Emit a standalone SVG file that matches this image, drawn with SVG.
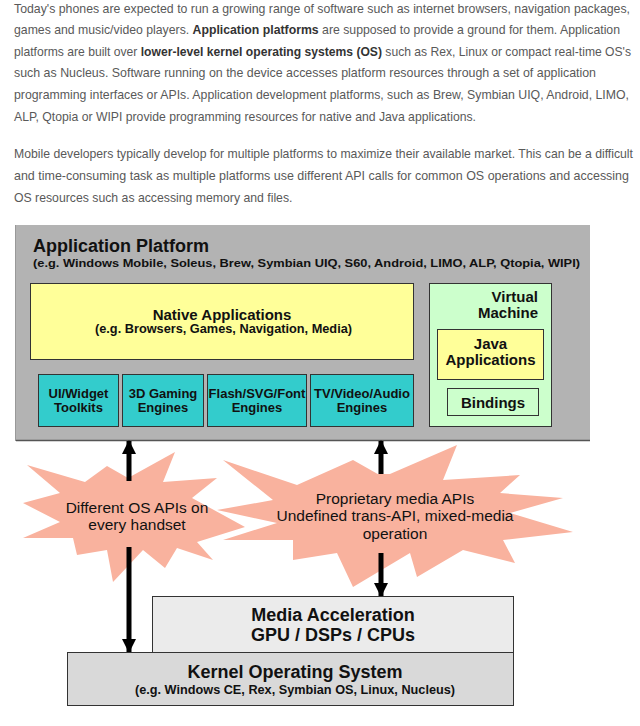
<svg xmlns="http://www.w3.org/2000/svg" width="640" height="726" viewBox="0 0 640 726">
<defs>
<style>
.p{font-family:"Liberation Sans",Arial,sans-serif;font-size:12.25px;fill:#595959}
.p .b{font-weight:bold;fill:#333}
.t{font-family:"Liberation Sans",Arial,sans-serif;font-weight:bold;fill:#111;text-anchor:middle}
.s{font-family:"Liberation Sans",Arial,sans-serif;fill:#111;text-anchor:middle;font-size:15.5px}
.box{stroke:#333;stroke-width:1}
.burst{fill:#f9b29e}
</style>
<marker id="ah" viewBox="0 0 14 14" refX="13" refY="7" markerWidth="14" markerHeight="14" markerUnits="userSpaceOnUse" orient="auto-start-reverse">
<path d="M0,0 L14,7 L0,14 z" fill="#000"/>
</marker>
</defs>
<rect width="640" height="726" fill="#fff"/>

<g id="intro">
<text class="p" x="14" y="12.5" textLength="616" lengthAdjust="spacingAndGlyphs">Today's phones are expected to run a growing range of software such as internet browsers, navigation packages,</text>
<text class="p" x="14" y="34" textLength="606" lengthAdjust="spacingAndGlyphs">games and music/video players. <tspan class="b">Application platforms</tspan> are supposed to provide a ground for them.  Application</text>
<text class="p" x="14" y="55.5" textLength="617" lengthAdjust="spacingAndGlyphs">platforms are built over <tspan class="b">lower-level kernel operating systems (OS)</tspan> such as Rex, Linux or compact real-time OS's</text>
<text class="p" x="14" y="77" textLength="582" lengthAdjust="spacingAndGlyphs">such as Nucleus. Software running on the device accesses platform resources through a set of application</text>
<text class="p" x="14" y="99" textLength="615" lengthAdjust="spacingAndGlyphs">programming interfaces or APIs. Application development platforms, such as Brew, Symbian UIQ, Android, LIMO,</text>
<text class="p" x="14" y="120.5" textLength="462" lengthAdjust="spacingAndGlyphs">ALP, Qtopia or WIPI provide programming resources for native and Java applications.</text>
<text class="p" x="14" y="158" textLength="619" lengthAdjust="spacingAndGlyphs">Mobile developers typically develop for multiple platforms to maximize their available market. This can be a difficult</text>
<text class="p" x="14" y="180" textLength="615" lengthAdjust="spacingAndGlyphs">and time-consuming task as multiple platforms use different API calls for common OS operations and accessing</text>
<text class="p" x="14" y="201.5">OS resources such as accessing memory and files.</text>
</g>

<g id="application-platform">
<rect x="16" y="225" width="574" height="216" fill="#b3b3b3"/>
<line x1="16" y1="440.5" x2="590" y2="440.5" stroke="#555" stroke-width="1.5"/>
<line x1="15.5" y1="225" x2="15.5" y2="441" stroke="#999" stroke-width="1"/>
<text class="t" x="33" y="252" style="text-anchor:start;font-size:18px">Application Platform</text>
<text class="t" x="33" y="267" style="text-anchor:start;font-size:11.5px" textLength="547" lengthAdjust="spacingAndGlyphs">(e.g. Windows Mobile, Soleus, Brew, Symbian UIQ, S60, Android, LIMO, ALP, Qtopia, WIPI)</text>
</g>

<g id="native-applications">
<rect class="box" x="30.5" y="283.5" width="383" height="76" fill="#ffff99"/>
<text class="t" x="222" y="320" style="font-size:15px">Native Applications</text>
<text class="t" x="223.5" y="333" style="font-size:12.5px" textLength="257" lengthAdjust="spacingAndGlyphs">(e.g. Browsers, Games, Navigation, Media)</text>
</g>

<g id="ui-widget">
<rect class="box" x="38.5" y="374.5" width="80" height="52" fill="#33cccc"/>
<text class="t" x="78.5" y="398" style="font-size:13px">UI/Widget</text>
<text class="t" x="78.5" y="412" style="font-size:13px">Toolkits</text>
</g>
<g id="gaming">
<rect class="box" x="122.5" y="374.5" width="81" height="52" fill="#33cccc"/>
<text class="t" x="163" y="398" style="font-size:13px">3D Gaming</text>
<text class="t" x="163" y="412" style="font-size:13px">Engines</text>
</g>
<g id="flash">
<rect class="box" x="207.5" y="374.5" width="99" height="52" fill="#33cccc"/>
<text class="t" x="257" y="398" style="font-size:13px">Flash/SVG/Font</text>
<text class="t" x="257" y="412" style="font-size:13px">Engines</text>
</g>
<g id="tv-video">
<rect class="box" x="310.5" y="374.5" width="103" height="52" fill="#33cccc"/>
<text class="t" x="362" y="398" style="font-size:13px">TV/Video/Audio</text>
<text class="t" x="362" y="412" style="font-size:13px">Engines</text>
</g>

<g id="virtual-machine">
<rect class="box" x="429.5" y="283.5" width="122" height="143" fill="#ccffcc"/>
<text class="t" x="538" y="302" style="text-anchor:end;font-size:15px">Virtual</text>
<text class="t" x="538" y="318" style="text-anchor:end;font-size:15px">Machine</text>
</g>
<g id="java-applications">
<rect class="box" x="437.5" y="329.5" width="106" height="50" fill="#ffff99"/>
<text class="t" x="490.5" y="349" style="font-size:15px">Java</text>
<text class="t" x="490.5" y="365" style="font-size:15px">Applications</text>
</g>
<g id="bindings">
<rect class="box" x="447.5" y="388.5" width="91" height="27" fill="#ccffcc"/>
<text class="t" x="493" y="408" style="font-size:15px">Bindings</text>
</g>

<g id="burst-left">
<polygon class="burst" points="27,465 85,482 107,466 128,478 175,452 163,482 217,478 192,498 245,527 197,542 213,560 177,548 165,568 143,550 113,582 107,550 77,555 73,538 23,538 60,522 23,503 60,493"/>
</g>
<g id="burst-right">
<polygon class="burst" points="223,460 297,485 353,460 383,477 457,445 443,480 520,475 500,493 563,498 510,513 573,532 503,540 515,563 463,550 417,577 410,553 353,587 337,553 293,560 293,540 223,540 277,523 217,510 273,500"/>
</g>

<g id="connectors" stroke="#000" stroke-width="5" fill="none">
<line x1="129" y1="441" x2="129" y2="652" marker-start="url(#ah)" marker-end="url(#ah)"/>
<line x1="381" y1="441" x2="381" y2="596" marker-start="url(#ah)" marker-end="url(#ah)"/>
</g>

<g id="burst-labels">
<rect class="burst" x="118" y="481" width="22" height="66"/>
<rect class="burst" x="370" y="474" width="22" height="79"/>
<text class="s" x="137" y="513">Different OS APIs on</text>
<text class="s" x="137" y="530">every handset</text>
<text class="s" x="395" y="504">Proprietary media APIs</text>
<text class="s" x="395" y="521">Undefined trans-API, mixed-media</text>
<text class="s" x="395" y="539">operation</text>
</g>

<g id="media-acceleration">
<rect class="box" x="152.5" y="596.5" width="361" height="56" fill="#ebebeb"/>
<text class="t" x="333" y="621" style="font-size:18px">Media Acceleration</text>
<text class="t" x="333" y="641" style="font-size:18px">GPU / DSPs / CPUs</text>
</g>

<g id="kernel-os">
<rect class="box" x="67.5" y="652.5" width="446" height="53" fill="#d9d9d9"/>
<text class="t" x="295" y="678" style="font-size:18px">Kernel Operating System</text>
<text class="t" x="295" y="694" style="font-size:12px" textLength="320" lengthAdjust="spacingAndGlyphs">(e.g. Windows CE, Rex, Symbian OS, Linux, Nucleus)</text>
</g>
</svg>
